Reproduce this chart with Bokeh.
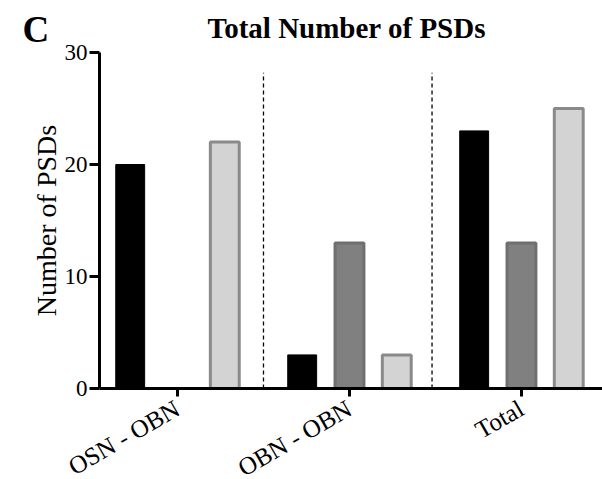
import math
from bokeh.plotting import figure
from bokeh.models import Range1d, FixedTicker, Label
from bokeh.embed import file_html
from bokeh.resources import INLINE

# ---- data ----
categories = ["OSN - OBN", "OBN - OBN", "Total"]
series_black = [20, 3, 23]
series_dark = [0, 13, 13]
series_light = [22, 3, 25]
y_ticks = [0, 10, 20, 30]
title_text = "Total Number of PSDs"
panel_letter = "C"
y_label = "Number of PSDs"

FONT = "Liberation Serif"
idx = list(range(len(categories)))

p = figure(frame_width=504, frame_height=336, output_backend="svg", toolbar_location=None,
           x_range=Range1d(-0.4535, 2.477), y_range=Range1d(0, 30),
           min_border_left=98, min_border_right=0, min_border_top=52, min_border_bottom=91)

p.outline_line_color = None
p.grid.grid_line_color = None
p.background_fill_color = "white"
p.border_fill_color = "white"

bar_w = 0.168
off = 0.275
p.vbar(x=[i - off for i in idx], top=series_black, width=bar_w, bottom=0,
       fill_color="black", line_color="black", line_width=1)
p.vbar(x=[i for i in idx], top=series_dark, width=bar_w, bottom=0,
       fill_color="#808080", line_color="#6f6f6f", line_width=3)
p.vbar(x=[i + off for i in idx], top=series_light, width=bar_w, bottom=0,
       fill_color="#d3d3d3", line_color="#8a8a8a", line_width=3)

# separators between groups
sep_x = [0.5, 1.48]
p.segment(x0=sep_x, x1=sep_x, y0=[0] * 2, y1=[28.2] * 2,
          line_color="black", line_width=1.3, line_dash="4 3")

# axes
for ax in (p.xaxis[0], p.yaxis[0]):
    ax.axis_line_width = 3
    ax.axis_line_color = "black"
    ax.major_tick_line_width = 3
    ax.major_tick_line_color = "black"
    ax.major_tick_in = 0
    ax.minor_tick_line_color = None
    ax.major_label_text_font = FONT
    ax.major_label_text_color = "black"

p.yaxis.major_label_text_font_size = "23px"
p.xaxis.major_label_text_font_size = "25px"

p.yaxis.ticker = FixedTicker(ticks=y_ticks)
p.yaxis.major_tick_out = 10
p.yaxis.major_label_standoff = 2
p.yaxis.axis_label = y_label
p.yaxis.axis_label_text_font = FONT
p.yaxis.axis_label_text_font_style = "normal"
p.yaxis.axis_label_text_font_size = "28px"
p.yaxis.axis_label_text_color = "black"
p.yaxis.axis_label_standoff = 0

p.xaxis.ticker = FixedTicker(ticks=idx)
p.xaxis.major_label_overrides = {i: c for i, c in zip(idx, categories)}
p.xaxis.major_tick_out = 8
p.xaxis.major_label_standoff = 10
p.xaxis.major_label_orientation = math.pi / 6

# title
p.title.text = title_text
p.title.align = "left"
p.title.offset = 108
p.title.text_font = FONT
p.title.text_font_style = "bold"
p.title.text_font_size = "29px"
p.title.text_color = "black"
p.title.standoff = 18

# panel letter in the left side panel (not clipped to the frame)
p.add_layout(Label(x=22, y=359, x_units="screen", y_units="screen", text=panel_letter,
                   text_font=FONT, text_font_style="bold", text_font_size="37px",
                   text_align="left", text_baseline="alphabetic", text_color="black"), "left")

open("out.html", "w").write(file_html(p, INLINE))
